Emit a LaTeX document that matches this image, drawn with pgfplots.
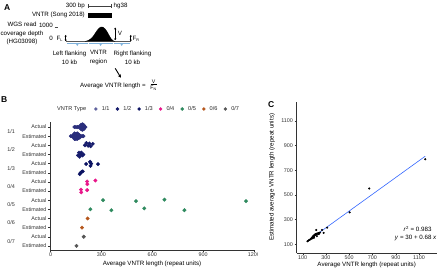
\documentclass[border=0pt]{standalone}
\usepackage{fontspec}
\setmainfont{Liberation Sans}
\setsansfont{Liberation Sans}
\usepackage{pgfplots}
\pgfplotsset{compat=1.18}
\usetikzlibrary{arrows.meta}
\definecolor{cA}{HTML}{2A2E7C}
\definecolor{cB}{HTML}{161C6C}
\definecolor{cC}{HTML}{0B1262}
\definecolor{cD}{HTML}{E8168A}
\definecolor{cE}{HTML}{2F8A5F}
\definecolor{cF}{HTML}{B5561C}
\definecolor{cG}{HTML}{555555}
\definecolor{lb}{HTML}{7FB2DC}
\definecolor{reg}{HTML}{3366FF}
\newcommand{\fa}{\fontsize{6.2}{7.4}\selectfont}
\newcommand{\ft}{\fontsize{5.4}{6}\selectfont}
\newcommand{\fs}{\fontsize{5.2}{6}\selectfont}
\newcommand{\fl}{\fontsize{8.5}{9}\selectfont\bfseries}
\pgfplotsset{
  /pgf/number format/assume math mode=true,
  /pgf/number format/1000 sep={},
  lg/.style={legend image code/.code={\fill[#1] (0pt,0pt) circle (1.5pt);}},
  ggax/.style={scale only axis, axis x line*=bottom, axis y line*=left,
    axis line style={black!80, line width=0.45pt, -},
    tick align=outside, major tick length=2pt,
    tick style={black!80, line width=0.4pt},
    tick label style={font=\ft, text=black!80},
    xticklabel style={inner sep=1pt},
    yticklabel style={inner sep=1.5pt},
    label style={font=\fa, text=black},
    clip=false},
}
\begin{document}
\begin{tikzpicture}
\useasboundingbox (0,0) rectangle (440pt,268pt);

% ---------------- Panel A ----------------
\begin{axis}[at={(0pt,173pt)}, anchor=south west, scale only axis,
  width=220pt, height=95pt, xmin=0, xmax=220, ymin=0, ymax=95,
  y dir=reverse, hide axis, clip=false]
\node[font=\fl, anchor=west] at (axis cs:0.5,7.5) {A};
% scale bar
\addplot[black!75, line width=0.4pt] coordinates {(87.7,6)(111,6)};
\addplot[black!75, line width=0.4pt] coordinates {(87.7,4.3)(87.7,7.7)};
\addplot[black!75, line width=0.4pt] coordinates {(111,4.3)(111,7.7)};
\node[font=\fa, anchor=east, inner sep=1pt] at (axis cs:86,6) {300 bp};
\node[font=\fa, anchor=west, inner sep=1pt] at (axis cs:112.5,6) {hg38};
% VNTR bar
\addplot[fill=black, draw=none] coordinates {(87.7,13.3)(111.7,13.3)(111.7,17.6)(87.7,17.6)};
\node[font=\fa, anchor=east, inner sep=1pt] at (axis cs:86,15.3) {VNTR (Song 2018)};
% coverage label
\node[font=\fa, align=center, inner sep=0pt] at (axis cs:22,33.5) {WGS read\\[1.1pt]coverage depth\\[1.1pt](HG03098)};
\node[font=\fa, anchor=east, inner sep=0.5pt] at (axis cs:53.5,25) {1000};
\addplot[black!70, line width=0.4pt] coordinates {(54.5,27.3)(57.5,27.3)};
\node[font=\fa, anchor=east, inner sep=0.5pt] at (axis cs:53.5,38.5) {0};
\node[font=\fa, anchor=west, inner sep=0pt] at (axis cs:56.3,38.5) {F\textsubscript{\fontsize{3.8}{4}\selectfont L}};
% coverage track
\addplot[black!65, line width=1.1pt] coordinates {(66,41.4)(130.5,41.4)};
\addplot[fill=black, draw=black, line width=0.3pt] coordinates {(85,41.4)(87,40.9)(89,40.0)(91,38.6)(93,36.5)(95,33.6)(97,30.6)(99,28.2)(101,27.0)(103,27.2)(105,28.8)(107,31.6)(109,35.2)(111,38.6)(113,40.7)(115,41.4)};
% double arrows
\draw[{Stealth[length=1.6pt,width=2.2pt]}-{Stealth[length=1.6pt,width=2.2pt]}, line width=0.7pt] (axis cs:65.7,35.0) -- (axis cs:65.7,41.2);
\draw[{Stealth[length=1.6pt,width=2.2pt]}-{Stealth[length=1.6pt,width=2.2pt]}, line width=0.7pt] (axis cs:130.8,35.0) -- (axis cs:130.8,41.2);
\draw[{Stealth[length=1.8pt,width=2.4pt]}-{Stealth[length=1.8pt,width=2.4pt]}, line width=0.5pt] (axis cs:115.2,27.6) -- (axis cs:115.2,40.2);
\node[font=\fa, anchor=west, inner sep=0pt] at (axis cs:117.6,33.6) {V};
\node[font=\fa, anchor=west, inner sep=0pt] at (axis cs:132.4,38.5) {F\textsubscript{\fontsize{3.8}{4}\selectfont R}};
% region brackets
\addplot[lb, line width=0.6pt] coordinates {(67,43.4)(87.6,43.4)};
\addplot[fill=lb, draw=none] coordinates {(75.6,43.3)(77.3,46.0)(79.0,43.3)};
\addplot[lb, line width=0.6pt] coordinates {(88.6,43.4)(112.6,43.4)};
\addplot[fill=lb, draw=none] coordinates {(98.9,43.3)(100.6,46.0)(102.3,43.3)};
\addplot[lb, line width=0.6pt] coordinates {(113.6,43.4)(129.8,43.4)};
\addplot[fill=lb, draw=none] coordinates {(120,43.3)(121.7,46.0)(123.4,43.3)};
\node[font=\fa, align=center, inner sep=0pt] at (axis cs:69.5,57.5) {Left flanking\\[1.2pt]10 kb};
\node[font=\fa, align=center, inner sep=0pt] at (axis cs:98.5,57.5) {VNTR\\[1.2pt]region};
\node[font=\fa, align=center, inner sep=0pt] at (axis cs:132.5,57.5) {Right flanking\\[1.2pt]10 kb};
% arrow
\draw[-{Stealth[length=3.2pt,width=3.6pt]}, line width=0.9pt] (axis cs:115.2,68.3) -- (axis cs:120.8,77.6);
\node[font=\fa, anchor=west, inner sep=0pt] at (axis cs:80,85.6) {Average VNTR length =};
\node[font=\fs, inner sep=0pt] at (axis cs:153.6,81.6) {V};
\addplot[black, line width=0.35pt] coordinates {(150.6,84.6)(156.8,84.6)};
\node[font=\fs, inner sep=0pt] at (axis cs:153.6,88.6) {F\textsubscript{\fontsize{3.6}{4}\selectfont N}};
\end{axis}

% ---------------- Panel B ----------------
\node[font=\fl, anchor=west, inner sep=0pt] at (1pt,168.5pt) {B};
\node[font=\fontsize{5.6}{6}\selectfont, text=black!85, anchor=west, inner sep=0pt] at (57pt,159pt) {VNTR Type};
\begin{scope}
\clip (0pt,0pt) rectangle (257.5pt,268pt);
\begin{axis}[ggax, at={(50pt,18pt)}, anchor=south west,
  width=204pt, height=128pt,
  xmin=-3, xmax=1200, ymin=-0.45, ymax=13.55,
  xtick={0,300,600,900,1200},
  ytick={0,...,13},
  yticklabels={Estimated,Actual,Estimated,Actual,Estimated,Actual,Estimated,Actual,Estimated,Actual,Estimated,Actual,Estimated,Actual},
  xlabel={Average VNTR length (repeat units)},
  xlabel style={at={(axis description cs:0.5,-0.108)}, anchor=center},
  legend columns=7,
  legend style={at={(axis description cs:0.2157,1.1016)}, anchor=west, draw=none, fill=none,
    font=\fontsize{5.6}{6}\selectfont, text=black!85, inner sep=0pt,
    /tikz/every odd column/.append style={column sep=2.2pt},
    /tikz/every even column/.append style={column sep=4.2pt}},
  every axis plot/.append style={only marks, mark=*, mark size=1.75pt, forget plot},
]
\addlegendimage{lg=cA!75}\addlegendentry{1/1}
\addlegendimage{lg=cB}\addlegendentry{1/2}
\addlegendimage{lg=cC}\addlegendentry{1/3}
\addlegendimage{lg=cD}\addlegendentry{0/4}
\addlegendimage{lg=cE}\addlegendentry{0/5}
\addlegendimage{lg=cF}\addlegendentry{0/6}
\addlegendimage{lg=cG}\addlegendentry{0/7}
% 1/1 actual / estimated
\addplot[cA] coordinates {(141,13)(150,13)(158,13)(166,13)(172,13)(177,13)(181,12.75)(181,13.25)(185,13)(189,12.7)(189,13.3)(193,13)(197,12.8)(197,13.2)(201,13)(206,13)};
\addplot[cA] coordinates {(120,12)(128,12)(135,12.15)(135,11.85)(142,12.3)(142,12)(142,11.7)(150,12.25)(150,11.95)(150,11.7)(158,12.3)(158,12)(158,11.7)(165,12.2)(165,11.8)(172,12.1)(172,11.85)(180,12)(187,12)(194,12)};
% 1/2
\addplot[cB] coordinates {(203,11.0)(212,11.25)(222,10.95)(229,11.2)(237,10.9)(249,11.15)};
\addplot[cB] coordinates {(162,9.9)(168,10.2)(175,10.0)(182,10.2)(188,9.9)(194,10.0)(172,9.75)};
% 1/3
\addplot[cC] coordinates {(210,8.95)(233,9.2)(236,8.75)(240,9.0)(280,8.95)};
\addplot[cC] coordinates {(172,7.85)(178,8.0)(184,8.1)(190,8.15)};
% 0/4
\addplot[cD] coordinates {(216,7.05)(217,6.75)(265,7.15)};
\addplot[cD] coordinates {(180,6.15)(181,5.85)(216,6.1)};
% 0/5
\addplot[cE] coordinates {(310,5)(504,4.9)(672,5.05)(1153,4.9)};
\addplot[cE] coordinates {(235,4)(359,3.9)(553,4.1)(790,3.9)};
% 0/6
\addplot[cF] coordinates {(219,3)};
\addplot[cF] coordinates {(186,2)};
% 0/7
\addplot[cG] coordinates {(196,1)};
\addplot[cG] coordinates {(153,0)};
% group labels
\node[font=\ft, text=black!80] at (axis cs:-232,12.5) {1/1};
\node[font=\ft, text=black!80] at (axis cs:-232,10.5) {1/2};
\node[font=\ft, text=black!80] at (axis cs:-232,8.5) {1/3};
\node[font=\ft, text=black!80] at (axis cs:-232,6.5) {0/4};
\node[font=\ft, text=black!80] at (axis cs:-232,4.5) {0/5};
\node[font=\ft, text=black!80] at (axis cs:-232,2.5) {0/6};
\node[font=\ft, text=black!80] at (axis cs:-232,0.5) {0/7};
\end{axis}
\end{scope}

% ---------------- Panel C ----------------
\node[font=\fl, anchor=west, inner sep=0pt] at (268pt,163pt) {C};
\begin{axis}[ggax, at={(296.7pt,15pt)}, anchor=south west,
  width=140pt, height=151.3pt,
  xmin=48.4, xmax=1252, ymin=29.4, ymax=1256.5,
  xtick={100,300,500,700,900,1100},
  ytick={100,300,500,700,900,1100},
  xlabel={Average VNTR length (repeat units)},
  xlabel style={at={(axis description cs:0.5,-0.077)}, anchor=center},
  ylabel={Estimated average VNTR length (repeat units)},
  ylabel style={at={(axis description cs:-0.176,0.5)}, anchor=center},
]
\addplot[reg, line width=0.6pt] coordinates {(140,125.2)(1153,814.0)};
\addplot[only marks, mark=*, mark size=0.85pt, black] coordinates {
(141,125)(150,130)(158,136)(166,140)(172,146)(177,150)(181,148)(181,156)(185,152)(189,158)(189,165)(193,160)(197,170)(197,162)(201,176)(206,180)
(203,172)(212,182)(222,166)(229,186)(237,190)(249,195)
(210,178)(233,190)(236,184)(240,186)(280,192)
(216,182)(217,216)(265,216)
(310,235)(504,359)(672,553)(1153,790)
(219,186)(196,153)};
\node[font=\fa, anchor=east, inner sep=0pt] at (axis cs:1209,224) {\textit{r}\textsuperscript{2} = 0.983};
\node[font=\fa, anchor=east, inner sep=0pt] at (axis cs:1252,153.5) {\textit{y} = 30 + 0.68 \textit{x}};
\end{axis}
\end{tikzpicture}
\end{document}
